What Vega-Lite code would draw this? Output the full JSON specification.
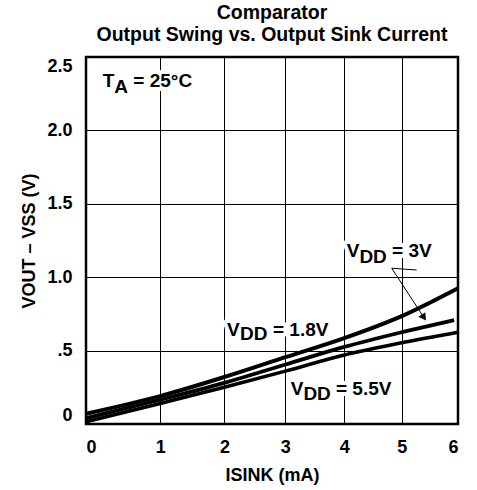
{
  "$schema": "https://vega.github.io/schema/vega-lite/v6.json",
  "width": 372,
  "height": 367,
  "autosize": {"type": "none"},
  "padding": {"left": 86, "top": 57, "right": 19, "bottom": 66},
  "background": "white",
  "config": {
    "font": "Liberation Sans",
    "view": {"stroke": "black", "strokeWidth": 2.5},
    "axis": {
      "grid": true, "gridColor": "black", "gridWidth": 1, "gridOpacity": 1,
      "ticks": false, "domain": false,
      "labelFont": "Liberation Sans", "labelFontSize": 18, "labelFontWeight": "bold", "labelColor": "black",
      "titleFont": "Liberation Sans", "titleFontSize": 18, "titleFontWeight": "bold", "titleColor": "black"
    }
  },
  "title": {
    "text": ["Comparator", "Output Swing vs. Output Sink Current"],
    "font": "Liberation Sans", "fontSize": 19.5, "fontWeight": "bold", "color": "black",
    "anchor": "middle", "offset": 12, "lineHeight": 22
  },
  "datasets": {
    "curves": [
      {"series": "1.8V", "I": 0, "V": 0.07},
      {"series": "1.8V", "I": 1, "V": 0.19},
      {"series": "1.8V", "I": 2, "V": 0.32},
      {"series": "1.8V", "I": 3, "V": 0.455},
      {"series": "1.8V", "I": 4, "V": 0.585},
      {"series": "1.8V", "I": 5, "V": 0.735},
      {"series": "1.8V", "I": 6, "V": 0.925},
      {"series": "3V", "I": 0, "V": 0.04},
      {"series": "3V", "I": 1, "V": 0.165},
      {"series": "3V", "I": 2, "V": 0.28},
      {"series": "3V", "I": 3, "V": 0.405},
      {"series": "3V", "I": 4, "V": 0.525},
      {"series": "3V", "I": 5, "V": 0.625},
      {"series": "3V", "I": 5.93, "V": 0.708},
      {"series": "5.5V", "I": 0, "V": 0.015},
      {"series": "5.5V", "I": 1, "V": 0.14},
      {"series": "5.5V", "I": 2, "V": 0.25},
      {"series": "5.5V", "I": 3, "V": 0.36},
      {"series": "5.5V", "I": 4, "V": 0.47},
      {"series": "5.5V", "I": 5, "V": 0.553},
      {"series": "5.5V", "I": 6, "V": 0.625}
    ],
    "labels": [
      {"I": 0.191, "V": 2.298, "text": "T"},
      {"I": 0.343, "V": 2.257, "text": "A"},
      {"I": 0.607, "V": 2.298, "text": "= 25°C"},
      {"I": 2.042, "V": 0.599, "text": "V"},
      {"I": 2.252, "V": 0.572, "text": "DD"},
      {"I": 2.794, "V": 0.599, "text": "= 1.8V"},
      {"I": 4.042, "V": 1.136, "text": "V"},
      {"I": 4.261, "V": 1.097, "text": "DD"},
      {"I": 4.83, "V": 1.136, "text": "= 3V"},
      {"I": 3.09, "V": 0.1975, "text": "V"},
      {"I": 3.303, "V": 0.1635, "text": "DD"},
      {"I": 3.858, "V": 0.1975, "text": "= 5.5V"}
    ],
    "segments": [
      {"I": 4.825, "V": 1.061, "I2": 5.264, "V2": 1.049},
      {"I": 4.825, "V": 1.061, "I2": 5.392, "V2": 0.7255}
    ],
    "heads": [
      {"I": 5.392, "V": 0.7255}
    ]
  },
  "encoding": {
    "x": {
      "field": "I", "type": "quantitative",
      "scale": {"type": "pow", "exponent": 0.9, "domain": [0, 6], "nice": false, "zero": false},
      "axis": {"values": [0, 1, 2, 3, 4, 5, 6], "title": "ISINK (mA)", "labelPadding": 14, "titlePadding": 10}
    },
    "y": {
      "field": "V", "type": "quantitative",
      "scale": {"domain": [0, 2.5], "nice": false},
      "axis": {
        "values": [0, 0.5, 1, 1.5, 2, 2.5],
        "labelExpr": "datum.value == 0 ? '0' : datum.value == 0.5 ? '.5' : format(datum.value, '.1f')",
        "labelFlush": true, "labelPadding": 14,
        "title": "VOUT – VSS (V)", "titlePadding": 8
      }
    }
  },
  "layer": [
    {
      "data": {"name": "labels"},
      "mark": {"type": "text", "align": "left", "baseline": "alphabetic", "fontSize": 19, "fontWeight": "bold", "fill": "white", "stroke": "white", "strokeWidth": 8, "strokeJoin": "round"},
      "encoding": {"text": {"field": "text"}}
    },
    {
      "data": {"name": "curves"},
      "mark": {"type": "line", "color": "black", "interpolate": "monotone"},
      "encoding": {
        "detail": {"field": "series"},
        "strokeWidth": {"field": "series", "type": "nominal", "scale": {"domain": ["1.8V", "3V", "5.5V"], "range": [4, 3.5, 3.5]}, "legend": null}
      }
    },
    {
      "data": {"name": "labels"},
      "mark": {"type": "text", "align": "left", "baseline": "alphabetic", "fontSize": 19, "fontWeight": "bold", "color": "black"},
      "encoding": {"text": {"field": "text"}}
    },
    {
      "data": {"name": "segments"},
      "mark": {"type": "rule", "color": "black", "strokeWidth": 1},
      "encoding": {"x2": {"field": "I2"}, "y2": {"field": "V2"}}
    },
    {
      "data": {"name": "heads"},
      "mark": {"type": "point", "shape": "triangle-up", "angle": 146, "size": 70, "filled": true, "color": "black", "opacity": 1},
      "encoding": {}
    }
  ]
}
